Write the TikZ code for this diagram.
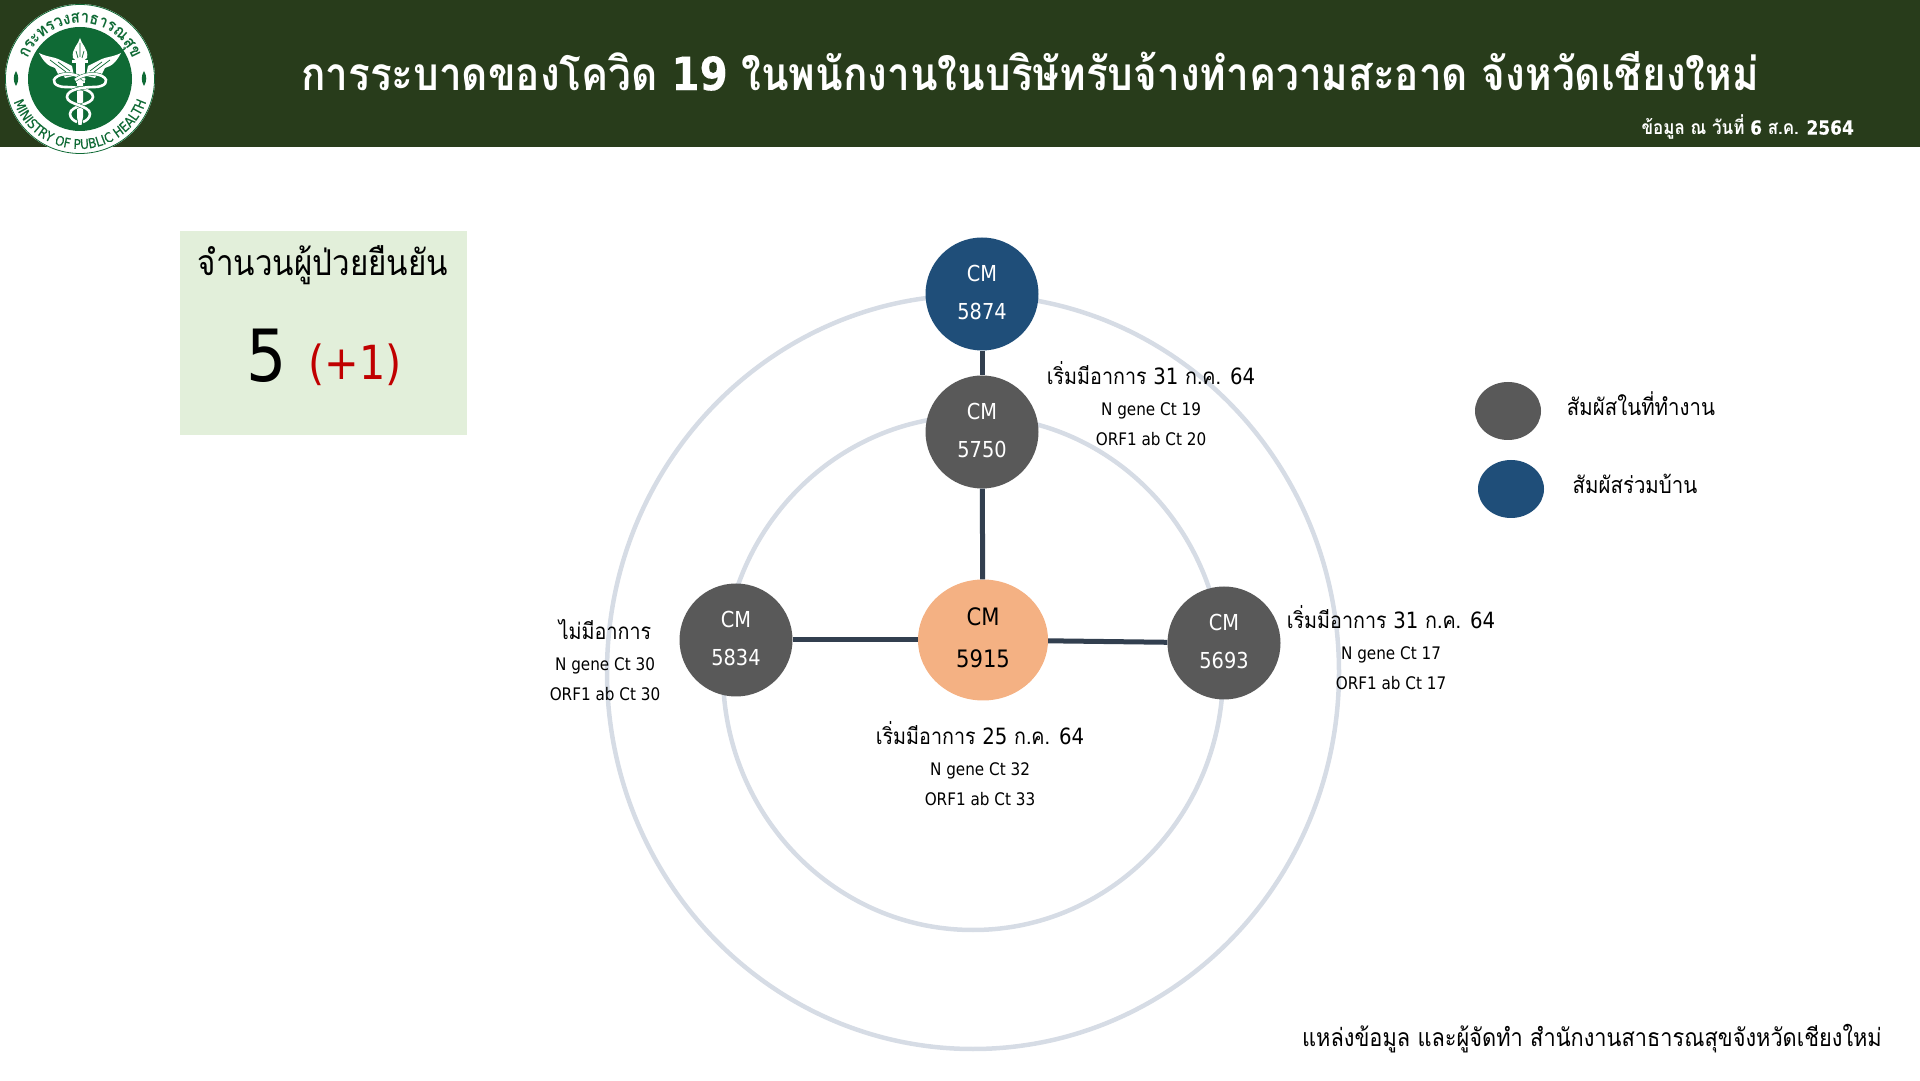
\documentclass[tikz,border=0pt]{standalone}
\usepackage{fontspec}
\setmainfont[Script=Thai,FakeStretch=0.88]{Loma}
\newfontfamily\ltnfont[FakeStretch=0.88]{DejaVu Sans}
\newfontfamily\ltnsemi[FakeStretch=0.88,FakeBold=0.2]{DejaVu Sans}
\newcommand{\en}[1]{{\ltnfont #1}}
\newcommand{\ens}[1]{{\ltnsemi #1}}
\usetikzlibrary{shapes.geometric,positioning,decorations.text}

\definecolor{headgreen}{HTML}{283C1B}
\definecolor{logogreen}{HTML}{0F6A35}
\definecolor{boxgreen}{HTML}{E2EFDA}
\definecolor{ringgrey}{HTML}{D6DCE5}
\definecolor{linkblue}{HTML}{323F4F}
\definecolor{workgrey}{HTML}{595959}
\definecolor{homeblue}{HTML}{1F4E79}
\definecolor{indexorange}{HTML}{F4B183}
\definecolor{plusred}{HTML}{C00000}

\tikzset{
  ring/.style={ellipse, draw=ringgrey, line width=4.5pt, inner sep=0pt},
  link/.style={draw=linkblue, line width=5pt},
  worknode/.style={ellipse, fill=workgrey, text=white, minimum width=113pt, minimum height=113pt, inner sep=0pt, align=center, text depth=4pt, font=\fontsize{22}{38}\ltnfont},
  homenode/.style={worknode, fill=homeblue},
  indexnode/.style={worknode, fill=indexorange, text=black, minimum width=130pt, minimum height=121pt, font=\fontsize{24}{42}\ltnfont},
  headtext/.style={font=\fontsize{22.4}{26}\selectfont, inner sep=0pt, text height=20pt, text depth=8pt},
  cttext/.style={font=\fontsize{17.3}{18}\ltnfont, inner sep=0pt, text height=14pt, text depth=4pt},
  keytext/.style={headtext, font=\fontsize{23.2}{26}\selectfont},
  snake/.style={draw=logogreen, double=white, double distance=2.6pt, line width=0.5pt},
}

\begin{document}
\begin{tikzpicture}[x=1pt,y=1pt]
 \useasboundingbox (0,0) rectangle (1920,1080);

 % header
 \fill[headgreen] (0,933) rectangle (1920,1080);
 \node[font=\fontsize{46}{50}\selectfont\bfseries, text=white, inner sep=0pt] (title) at (1030,1009) {การระบาดของโควิด \ens{19} ในพนักงานในบริษัทรับจ้างทำความสะอาด จังหวัดเชียงใหม่};
 \node[font=\fontsize{19.3}{22}\selectfont\bfseries, text=white, inner sep=0pt, anchor=east] (date) at (1854,953) {ข้อมูล ณ วันที่ \ens{6} ส.ค. \ens{2564}};

 % logo
 \begin{scope}[shift={(80,1001)}]
  \fill[white] (0,0) circle (75);
  \draw[logogreen, line width=0.8pt] (0,0) circle (74.5);
  \fill[logogreen] (0,0) circle (52);
  \path[decorate, decoration={text along path, text align=center, text={|\fontsize{17}{19}\selectfont\bfseries\color{logogreen}|กระทรวงสาธารณ{สุ}ข}}]
    (166:56) arc[start angle=166, end angle=14, radius=56];
  \path[decorate, decoration={text along path, text align=center, text={|\fontsize{13.5}{15}\ltnsemi\color{logogreen}|MINISTRY OF PUBLIC HEALTH}}]
    (195:70) arc[start angle=195, end angle=345, radius=70];
  \foreach \s in {-1,1} {
   \fill[logogreen] (\s*64,-7) .. controls (\s*61,-2) and (\s*61,3) .. (\s*64,8) .. controls (\s*67,3) and (\s*67,-2) .. cycle;
   \fill[white] (\s*41,26) .. controls (\s*33,22) and (\s*26,22) .. (\s*22,20) -- (\s*8,13) -- (\s*6,3) -- (\s*15,1) -- (\s*18,6) -- (\s*22,5) -- (\s*25,11) -- (\s*30,13) .. controls (\s*34,15) and (\s*38,20) .. cycle;
   \draw[logogreen, line width=0.7pt] (\s*30,19) -- (\s*14,7) (\s*22,17) -- (\s*10,8);
  }
  \fill[white] (0,41) .. controls (1,35) and (9,30) .. (7,21) .. controls (6,19) and (3,18) .. (0,18) .. controls (-3,18) and (-6,19) .. (-7,21) .. controls (-9,30) and (-1,35) .. cycle;
  \draw[logogreen, line width=0.7pt] (0,36) -- (0,22) (-4,28) -- (-2,21) (4,28) -- (2,21);
  \fill[white] (-8,16) rectangle (8,19);
  \fill[white] (-4.5,-4) rectangle (5,17);
  \fill[white] (-1.5,-46) -- (1.5,-46) -- (3,-38) -- (3,-4) -- (-3,-4) -- (-3,-38) -- cycle;
  \draw[snake] (5,-1) .. controls (-4,6) and (-16,6) .. (-22,3) .. controls (-31,-2) and (-24,-8) .. (-15,-8) .. controls (-4,-8) and (13,-10) .. (13,-18) .. controls (13,-26) and (-10,-26) .. (-10,-35) .. controls (-10,-39) and (-6,-42) .. (-3,-43);
  \draw[snake] (-5,-1) .. controls (4,6) and (16,6) .. (22,3) .. controls (31,-2) and (24,-8) .. (15,-8) .. controls (4,-8) and (-13,-10) .. (-13,-18) .. controls (-13,-26) and (10,-26) .. (10,-35) .. controls (10,-39) and (6,-42) .. (3,-43);
 \end{scope}

 % confirmed box
 \fill[boxgreen] (180,645) rectangle (467,849);
 \node[font=\fontsize{35.6}{38}\selectfont, inner sep=0pt] (boxhead) at (323,815) {จำนวนผู้ป่วยยืนยัน};
 \node[font=\fontsize{72}{80}\ltnfont, inner sep=0pt] (total) at (267,724) {5};
 \node[font=\fontsize{47}{50}\ltnfont, text=plusred, inner sep=0pt] (added) at (355,715) {(+1)};

 % rings
 \node[ring, minimum width=732pt, minimum height=754pt] (outer) at (973,408) {};
 \node[ring, minimum width=500pt, minimum height=514pt] (inner) at (973,407) {};

 % cases
 \node[homenode] (c5874) at (982,786) {CM\\5874};
 \node[worknode] (c5750) at (982,648) {CM\\5750};
 \node[indexnode] (c5915) at (983,440) {CM\\5915};
 \node[worknode] (c5834) at (736,440) {CM\\5834};
 \node[worknode] (c5693) at (1224,437) {CM\\5693};

 \draw[link] (c5874) -- (c5750);
 \draw[link] (c5750) -- (c5915);
 \draw[link] (c5834) -- (c5915);
 \draw[link] (c5915) -- (c5693);

 % labels
 \node[headtext] (t5750) at (1151,701) {เริ่มมีอาการ \en{31} ก.ค. \en{64}};
 \node[cttext, below=8.6pt of t5750] (n5750) {N gene Ct 19};
 \node[cttext, below=11.4pt of n5750] (o5750) {ORF1 ab Ct 20};

 \node[headtext] (t5834) at (605,446) {ไม่มีอาการ};
 \node[cttext, below=8.6pt of t5834] (n5834) {N gene Ct 30};
 \node[cttext, below=11.4pt of n5834] (o5834) {ORF1 ab Ct 30};

 \node[headtext] (t5693) at (1391,457) {เริ่มมีอาการ \en{31} ก.ค. \en{64}};
 \node[cttext, below=8.6pt of t5693] (n5693) {N gene Ct 17};
 \node[cttext, below=11.4pt of n5693] (o5693) {ORF1 ab Ct 17};

 \node[headtext] (t5915) at (980,341) {เริ่มมีอาการ \en{25} ก.ค. \en{64}};
 \node[cttext, below=8.6pt of t5915] (n5915) {N gene Ct 32};
 \node[cttext, below=11.4pt of n5915] (o5915) {ORF1 ab Ct 33};

 % legend
 \node[ellipse, fill=workgrey, minimum width=66pt, minimum height=58pt] (keywork) at (1508,669) {};
 \node[ellipse, fill=homeblue, minimum width=66pt, minimum height=58pt] (keyhome) at (1511,591) {};
 \node[keytext] (workname) at (1641,670) {สัมผัสในที่ทำงาน};
 \node[keytext] (homename) at (1635,592) {สัมผัสร่วมบ้าน};

 % source
 \node[font=\fontsize{24.75}{28}\selectfont, inner sep=0pt, anchor=east] (source) at (1882,41) {แหล่งข้อมูล และผู้จัดทำ สำนักงานสาธารณสุขจังหวัดเชียงใหม่};
\end{tikzpicture}
\end{document}
